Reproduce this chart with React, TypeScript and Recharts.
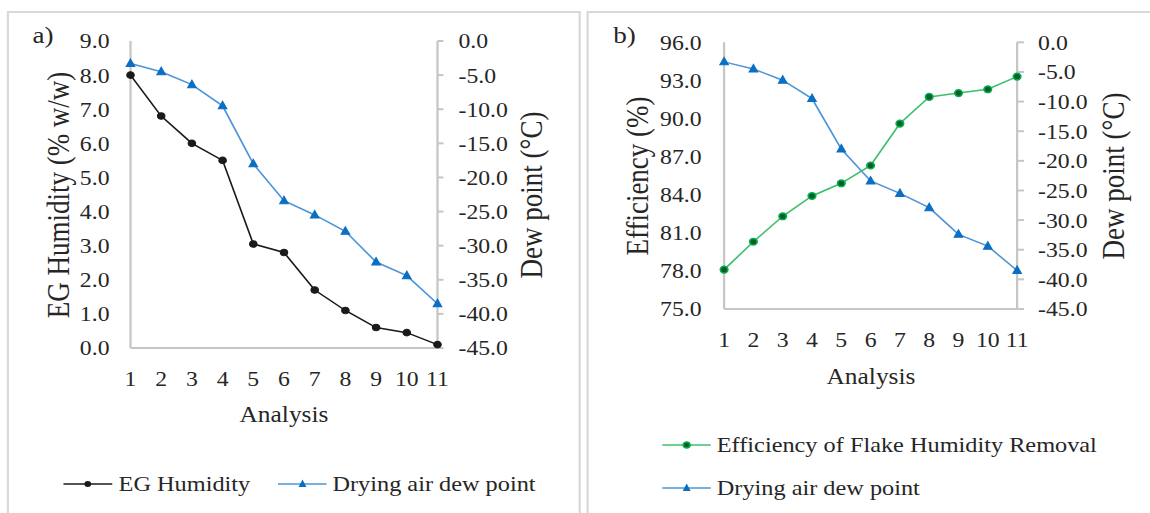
import React from 'react';
import { LineChart, Line, XAxis, YAxis } from 'recharts';

// values
const analysis = [1, 2, 3, 4, 5, 6, 7, 8, 9, 10, 11];
const egHumidity = [8.0, 6.8, 6.0, 5.5, 3.05, 2.8, 1.7, 1.1, 0.6, 0.45, 0.1];
const dewPoint = [-3.3, -4.5, -6.4, -9.5, -18.0, -23.4, -25.5, -27.9, -32.4, -34.4, -38.5];
const efficiency = [78.1, 80.3, 82.3, 83.9, 84.9, 86.3, 89.6, 91.7, 92.0, 92.3, 93.3];

const humidityTicks = [0, 1, 2, 3, 4, 5, 6, 7, 8, 9];
const dewTicks = [-45, -40, -35, -30, -25, -20, -15, -10, -5, 0];
const efficiencyTicks = [75, 78, 81, 84, 87, 90, 93, 96];

const rows = analysis.map((n, i) => ({
  n,
  eg: egHumidity[i],
  dew: dewPoint[i],
  eff: efficiency[i],
}));

// the source figure is stretched sideways, so everything is drawn narrower and scaled back
const S = 1.13;
const px = (x: number) => x / S;

const FONT = '"Liberation Serif", "Times New Roman", serif';
const TEXT = '#262626';
const AXIS = '#c6c6c6';
const BLACK = '#1a1a1a';
const BLUE_LINE = '#4d94d8';
const BLUE_MARK = '#0a6fc2';
const GREEN_LINE = '#3cc06e';
const GREEN_MARK = '#0f5a26';

const tickStyle = { fontSize: 21, fill: TEXT, fontFamily: FONT };
const fmt = (v: number) => v.toFixed(1);

const Triangle = (props: any) => {
  const { cx, cy } = props;
  if (cx == null || cy == null) return null;
  return <polygon points={`${cx},${cy - 4.5} ${cx - 3.8},${cy + 3} ${cx + 3.8},${cy + 3}`} fill={BLUE_MARK} stroke={BLUE_MARK} />;
};

const LegendIcon = ({ kind }: { kind: 'black' | 'blue' | 'green' }) => {
  const w = px(49);
  const stroke = kind === 'black' ? BLACK : kind === 'blue' ? BLUE_LINE : GREEN_LINE;
  return (
    <svg width={w} height={12} style={{ display: 'block' }}>
      <line x1={0} y1={6} x2={w} y2={6} stroke={stroke} strokeWidth={1.5} />
      {kind === 'black' && <circle cx={w / 2} cy={6} r={3} fill={BLACK} />}
      {kind === 'green' && <circle cx={w / 2} cy={6} r={3} fill={GREEN_MARK} stroke="#00b050" strokeWidth={1.5} />}
      {kind === 'blue' && <polygon points={`${w / 2},${1.5} ${w / 2 - 3.5},${9} ${w / 2 + 3.5},${9}`} fill={BLUE_MARK} />}
    </svg>
  );
};

const LegendItem = ({ x, y, kind, label }: { x: number; y: number; kind: 'black' | 'blue' | 'green'; label: string }) => (
  <div style={{ position: 'absolute', left: px(x), top: y - 13, height: 26, display: 'flex', alignItems: 'center', whiteSpace: 'nowrap', fontSize: 21.5 }}>
    <LegendIcon kind={kind} />
    <span style={{ marginLeft: px(6) }}>{label}</span>
  </div>
);

const Title = ({ x, y, text, size, rotate }: { x: number; y: number; text: string; size: number; rotate?: boolean }) => (
  <div
    style={{
      position: 'absolute',
      left: px(x),
      top: y,
      fontSize: size,
      lineHeight: 1,
      whiteSpace: 'nowrap',
      transform: `translate(-50%, -50%)${rotate ? ' rotate(-90deg)' : ''}`,
    }}
  >
    {text}
  </div>
);

export default function App() {
  return (
    <div style={{ position: 'absolute', left: 0, top: 0, width: 1150, height: 513, overflow: 'hidden', background: '#fff' }}>
      <div
        style={{
          position: 'absolute',
          left: 0,
          top: 0,
          width: px(1150),
          height: 513,
          transform: `scaleX(${S})`,
          transformOrigin: '0 0',
          fontFamily: FONT,
          color: TEXT,
        }}
      >
        <div style={{ position: 'absolute', left: px(7), top: 11, width: px(581) - px(7), height: 520, border: '2px solid #d9d9d9', boxSizing: 'border-box' }} />
        <div style={{ position: 'absolute', left: px(587), top: 11, width: px(1170) - px(587), height: 520, border: '2px solid #d9d9d9', boxSizing: 'border-box' }} />

        {/* a) */}
        <div style={{ position: 'absolute', left: 0, top: 0 }}>
          <LineChart width={px(580)} height={400} data={rows} margin={{ top: 41, right: 0, bottom: 22, left: 0 }}>
            <XAxis
              dataKey="n"
              type="number"
              domain={[1, 11]}
              ticks={analysis}
              interval={0}
              tickSize={0}
              tickMargin={23}
              tickLine={false}
              axisLine={{ stroke: AXIS, strokeWidth: 2 }}
              tick={tickStyle}
              height={30}
            />
            <YAxis
              yAxisId="left"
              domain={[0, 9]}
              ticks={humidityTicks}
              interval={0}
              tickFormatter={fmt}
              tickSize={0}
              tickMargin={px(21)}
              tickLine={false}
              axisLine={{ stroke: AXIS, strokeWidth: 2 }}
              tick={tickStyle}
              width={px(130.5)}
            />
            <YAxis
              yAxisId="right"
              orientation="right"
              domain={[-45, 0]}
              ticks={dewTicks}
              interval={0}
              tickFormatter={fmt}
              tickSize={px(6)}
              tickMargin={px(15)}
              tickLine={{ stroke: AXIS, strokeWidth: 2 }}
              axisLine={{ stroke: AXIS, strokeWidth: 2 }}
              tick={tickStyle}
              width={px(580) - px(437.5)}
            />
            <Line yAxisId="left" dataKey="eg" stroke={BLACK} strokeWidth={1.5} dot={{ r: 3.3, fill: BLACK, stroke: BLACK, strokeWidth: 1 }} isAnimationActive={false} />
            <Line yAxisId="right" dataKey="dew" stroke={BLUE_LINE} strokeWidth={1.5} dot={<Triangle />} isAnimationActive={false} />
          </LineChart>
        </div>

        {/* b) */}
        <div style={{ position: 'absolute', left: px(588), top: 0 }}>
          <LineChart width={px(1150) - px(588)} height={400} data={rows} margin={{ top: 42.3, right: 0, bottom: 61, left: 0 }}>
            <XAxis
              dataKey="n"
              type="number"
              domain={[1, 11]}
              ticks={analysis}
              interval={0}
              tickSize={0}
              tickMargin={23.5}
              tickLine={false}
              axisLine={{ stroke: AXIS, strokeWidth: 2 }}
              tick={tickStyle}
              height={30}
            />
            <YAxis
              yAxisId="left"
              domain={[75, 96]}
              ticks={efficiencyTicks}
              interval={0}
              tickFormatter={fmt}
              tickSize={0}
              tickMargin={px(22.5)}
              tickLine={false}
              axisLine={{ stroke: AXIS, strokeWidth: 2 }}
              tick={tickStyle}
              width={px(724.5) - px(588)}
            />
            <YAxis
              yAxisId="right"
              orientation="right"
              domain={[-45, 0]}
              ticks={dewTicks}
              interval={0}
              tickFormatter={fmt}
              tickSize={px(7)}
              tickMargin={px(14)}
              tickLine={{ stroke: AXIS, strokeWidth: 2 }}
              axisLine={{ stroke: AXIS, strokeWidth: 2 }}
              tick={tickStyle}
              width={px(1150) - px(1017.5)}
            />
            <Line yAxisId="left" dataKey="eff" stroke={GREEN_LINE} strokeWidth={1.5} dot={{ r: 3.3, fill: GREEN_MARK, stroke: '#00b050', strokeWidth: 1.5 }} isAnimationActive={false} />
            <Line yAxisId="right" dataKey="dew" stroke={BLUE_LINE} strokeWidth={1.5} dot={<Triangle />} isAnimationActive={false} />
          </LineChart>
        </div>

        <Title x={43} y={35} text="a)" size={24} />
        <Title x={624.5} y={35} text="b)" size={24} />

        <Title x={59.5} y={195} text="EG Humidity (% w/w)" size={27} rotate />
        <Title x={532} y={195} text="Dew point (°C)" size={27} rotate />
        <Title x={284} y={415} text="Analysis" size={22.5} />

        <Title x={638} y={176} text="Efficiency (%)" size={27} rotate />
        <Title x={1114} y={176} text="Dew point (°C)" size={27} rotate />
        <Title x={871} y={377} text="Analysis" size={22.5} />

        <LegendItem x={63.6} y={484} kind="black" label="EG Humidity" />
        <LegendItem x={277.5} y={484} kind="blue" label="Drying air dew point" />

        <LegendItem x={661.8} y={445} kind="green" label="Efficiency of Flake Humidity Removal" />
        <LegendItem x={661.8} y={488} kind="blue" label="Drying air dew point" />
      </div>
    </div>
  );
}
